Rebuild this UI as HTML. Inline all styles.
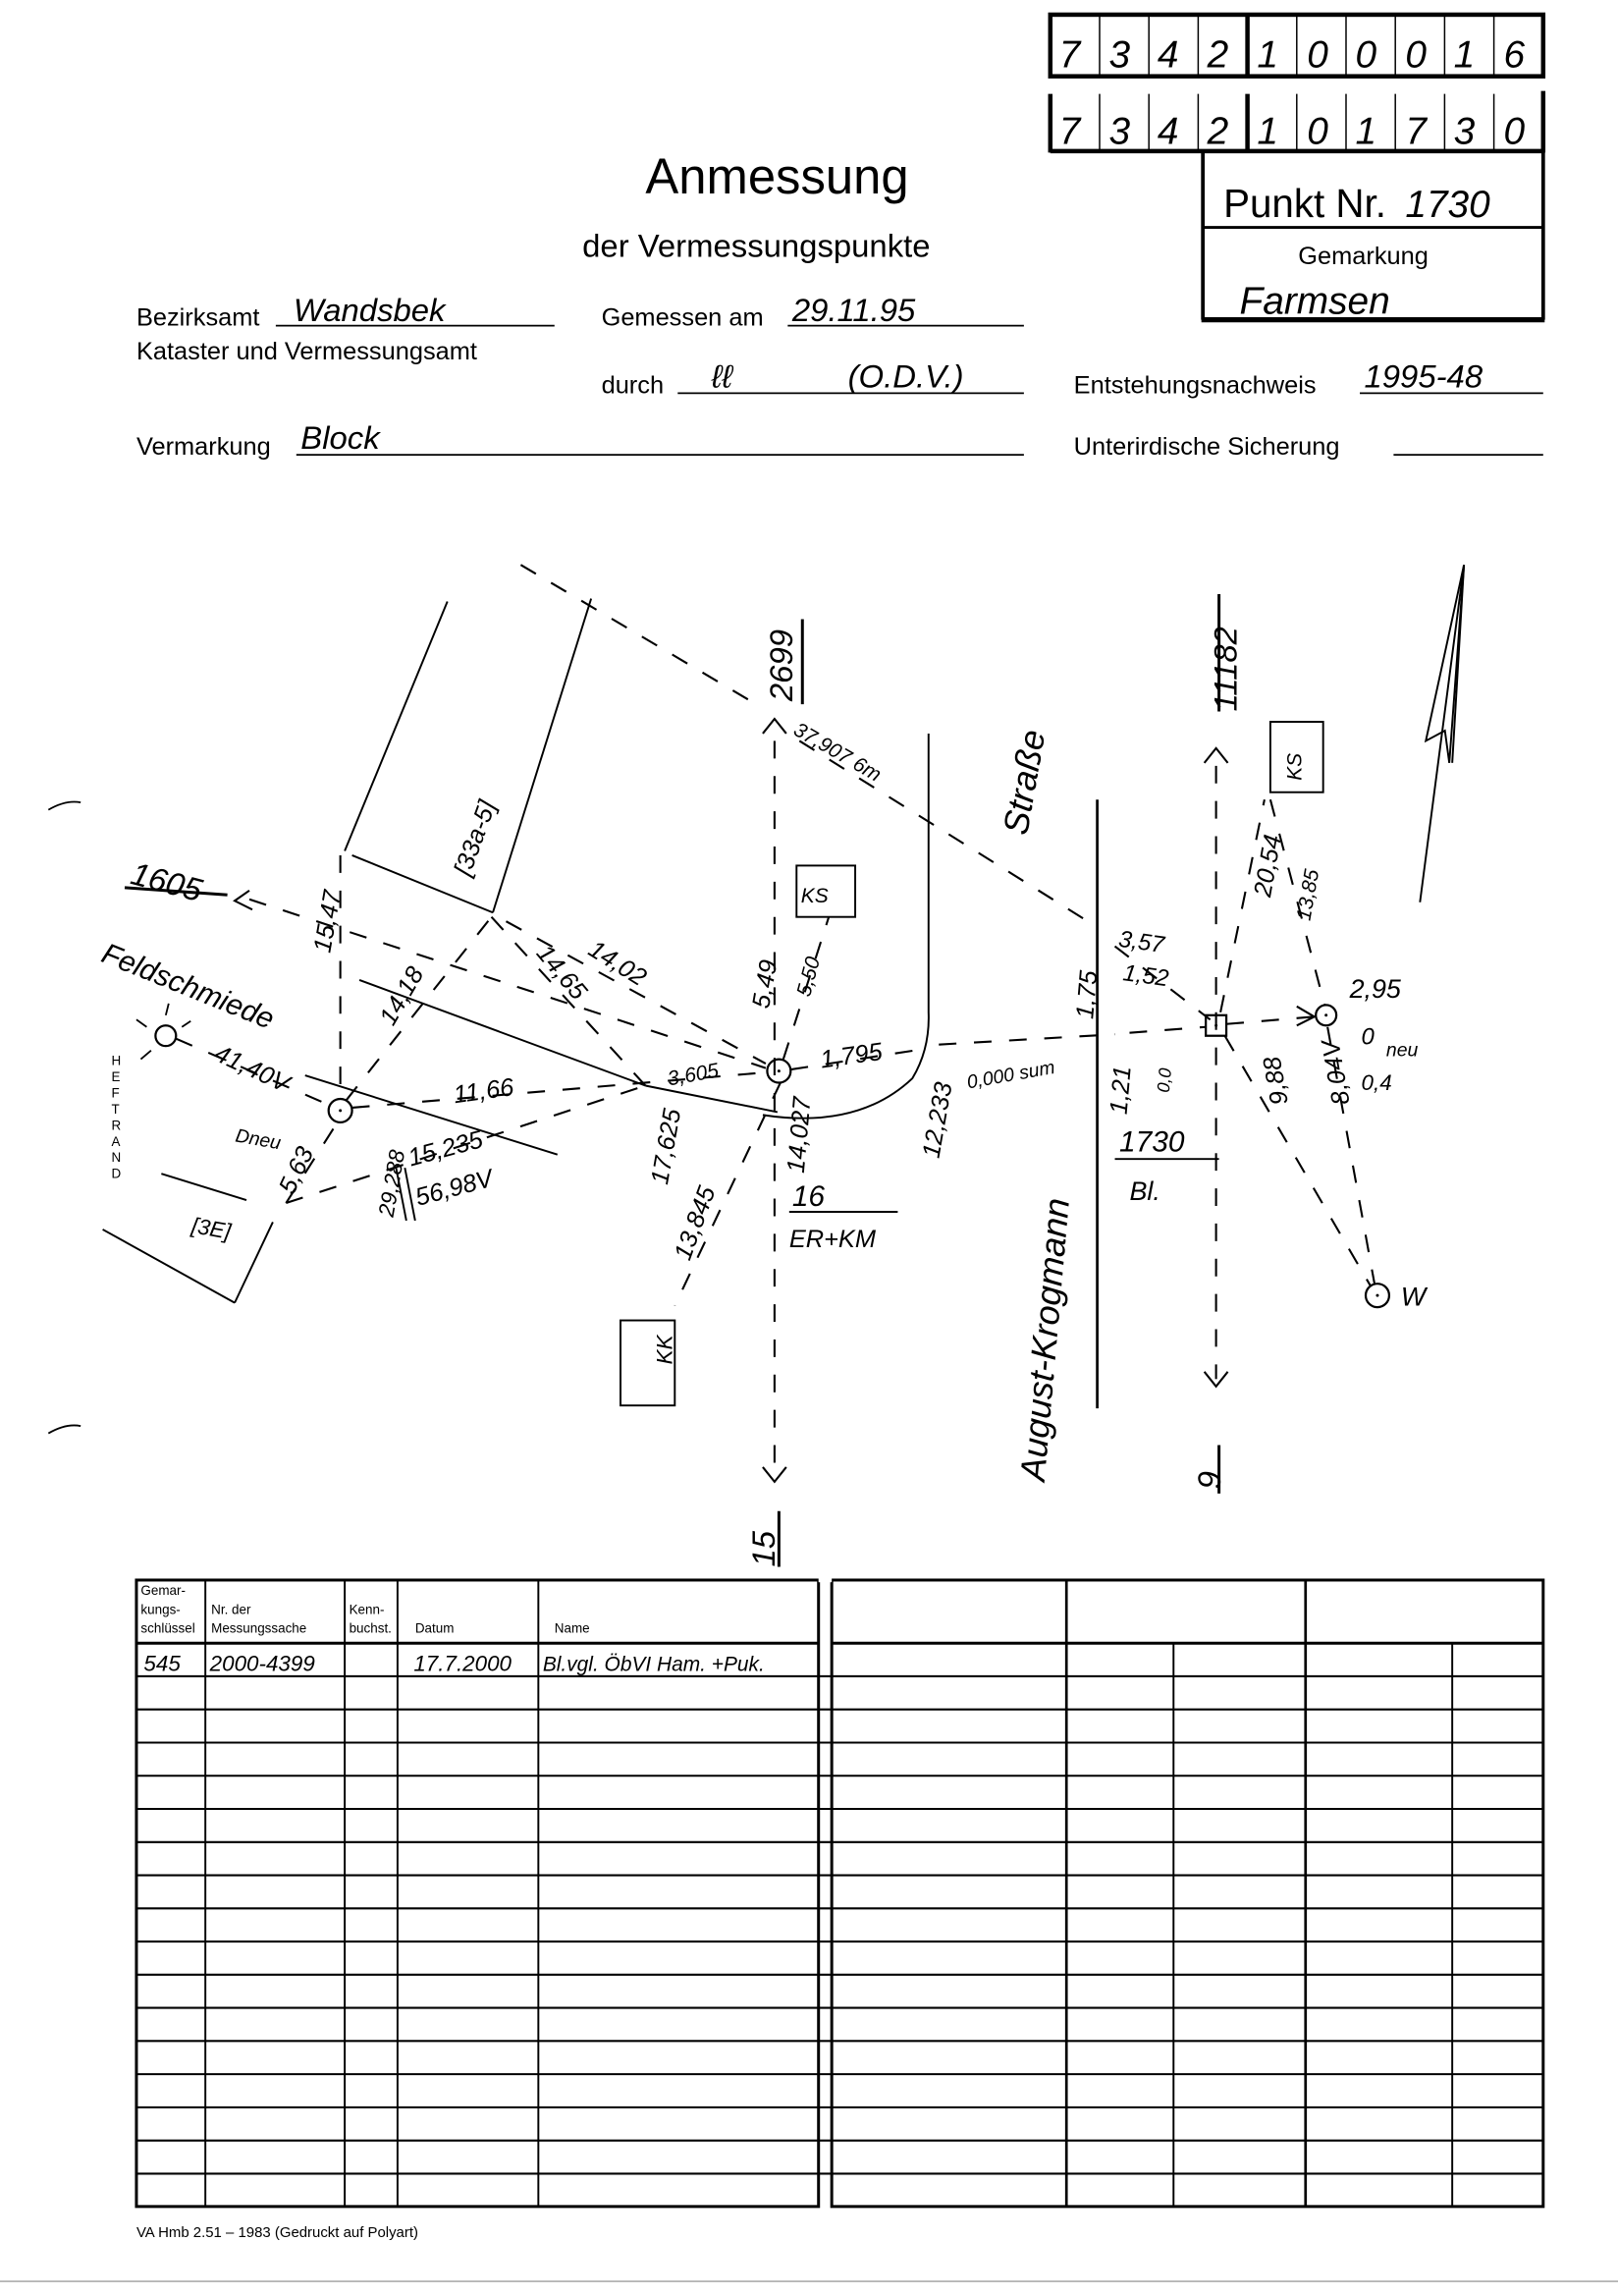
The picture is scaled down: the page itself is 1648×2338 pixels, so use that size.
<!DOCTYPE html>
<html><head><meta charset="utf-8"><style>
html,body{margin:0;padding:0;background:#fff;}
svg{display:block}
text{font-family:"Liberation Sans",sans-serif;fill:#000}
.h{font-style:italic}
</style></head><body>
<svg width="1648" height="2338" viewBox="0 0 1103 1565" preserveAspectRatio="none" xmlns="http://www.w3.org/2000/svg">
<g fill="none" stroke="#000">
<!-- code boxes -->
<rect x="716" y="10" width="336" height="42" stroke-width="3"/>
<g stroke-width="1"><line x1="749.6" y1="10" x2="749.6" y2="52"/><line x1="783.2" y1="10" x2="783.2" y2="52"/><line x1="816.8" y1="10" x2="816.8" y2="52"/><line x1="884" y1="10" x2="884" y2="52"/><line x1="917.6" y1="10" x2="917.6" y2="52"/><line x1="951.2" y1="10" x2="951.2" y2="52"/><line x1="984.8" y1="10" x2="984.8" y2="52"/><line x1="1018.4" y1="10" x2="1018.4" y2="52"/></g>
<line x1="850.4" y1="10" x2="850.4" y2="52" stroke-width="3"/>
<line x1="716" y1="64" x2="716" y2="104" stroke-width="3"/><line x1="1052" y1="62" x2="1052" y2="104" stroke-width="3"/>
<line x1="716" y1="103" x2="1052" y2="103" stroke-width="3"/>
<g stroke-width="1"><line x1="749.6" y1="64" x2="749.6" y2="102"/><line x1="783.2" y1="64" x2="783.2" y2="102"/><line x1="816.8" y1="64" x2="816.8" y2="102"/><line x1="884" y1="64" x2="884" y2="102"/><line x1="917.6" y1="64" x2="917.6" y2="102"/><line x1="951.2" y1="64" x2="951.2" y2="102"/><line x1="984.8" y1="64" x2="984.8" y2="102"/><line x1="1018.4" y1="64" x2="1018.4" y2="102"/></g>
<line x1="850.4" y1="64" x2="850.4" y2="102" stroke-width="3"/>
<line x1="820" y1="102" x2="820" y2="218" stroke-width="2.5"/><line x1="1052" y1="102" x2="1052" y2="218" stroke-width="2.5"/>
<line x1="820" y1="155" x2="1052" y2="155" stroke-width="2"/><line x1="819" y1="218" x2="1053" y2="218" stroke-width="3.5"/>
<!-- form lines -->
<g stroke-width="1.2">
<line x1="188" y1="222" x2="378" y2="222"/><line x1="537" y1="222" x2="698" y2="222"/>
<line x1="462" y1="268" x2="698" y2="268"/><line x1="927" y1="268" x2="1052" y2="268"/>
<line x1="202" y1="310" x2="698" y2="310"/><line x1="950" y1="310" x2="1052" y2="310"/>
</g>
<!-- margin marks -->
<path d="M33,552 Q45,545 55,547" stroke-width="1.2"/><path d="M33,977 Q45,970 55,972" stroke-width="1.2"/>
<line x1="0" y1="1555" x2="1103" y2="1555" stroke="#888" stroke-width="0.8"/>

<!-- sketch solid lines -->
<g stroke-width="1.3">
<line x1="305" y1="410" x2="235" y2="580"/>
<line x1="403" y1="408" x2="336" y2="622"/>
<line x1="240" y1="583" x2="336" y2="622"/>
<line x1="245" y1="668" x2="440" y2="740"/>
<line x1="208" y1="733" x2="380" y2="787"/>
<line x1="440" y1="740" x2="530" y2="758"/>
<line x1="110" y1="800" x2="168" y2="818"/>
<line x1="70" y1="838" x2="160" y2="888"/>
<line x1="160" y1="888" x2="186" y2="833"/>
<path d="M520,760 Q585,770 622,735 Q634,715 633,690 L633,500"/>
<line x1="748" y1="545" x2="748" y2="960" stroke-width="1.8"/>
<line x1="270" y1="796" x2="277" y2="832"/><line x1="276" y1="796" x2="283" y2="832"/>
<line x1="760" y1="790" x2="831" y2="790"/><line x1="538" y1="826" x2="612" y2="826"/>
<line x1="85" y1="605" x2="155" y2="610" stroke-width="2"/>
<line x1="831" y1="405" x2="831" y2="485" stroke-width="2"/><line x1="547" y1="422" x2="547" y2="480" stroke-width="2"/>
<line x1="531" y1="1030" x2="531" y2="1068" stroke-width="2"/><line x1="831" y1="985" x2="831" y2="1018" stroke-width="2"/>
<!-- north arrow -->
<path d="M968,615 L998,385 L990,520"/><path d="M998,385 L972,505 L985,498 L988,520 L998,385"/>
</g>
<!-- dashed lines -->
<g stroke-width="1.4" stroke-dasharray="12,12">
<line x1="355" y1="385" x2="512" y2="478"/>
<line x1="528" y1="505" x2="528" y2="1005"/>
<line x1="829" y1="522" x2="829" y2="940"/>
<line x1="545" y1="505" x2="748" y2="632"/>
<line x1="170" y1="613" x2="522" y2="728"/>
<line x1="240" y1="755" x2="522" y2="731"/>
<line x1="120" y1="708" x2="224" y2="753"/>
<line x1="236" y1="750" x2="335" y2="625"/>
<line x1="335" y1="625" x2="440" y2="740"/>
<line x1="345" y1="628" x2="522" y2="725"/>
<line x1="232" y1="583" x2="232" y2="749"/>
<line x1="195" y1="820" x2="440" y2="740"/>
<line x1="195" y1="820" x2="230" y2="765"/>
<line x1="532" y1="738" x2="460" y2="890"/>
<line x1="534" y1="722" x2="565" y2="625"/>
<line x1="539" y1="729" x2="630" y2="715"/>
<line x1="640" y1="712" x2="760" y2="705"/>
<line x1="770" y1="704" x2="822" y2="700"/>
<line x1="836" y1="698" x2="896" y2="693"/>
<line x1="760" y1="645" x2="825" y2="695"/>
<line x1="832" y1="690" x2="862" y2="545"/>
<line x1="866" y1="545" x2="903" y2="685"/>
<line x1="905" y1="700" x2="937" y2="875"/>
<line x1="835" y1="706" x2="934" y2="876"/>
</g>
<!-- arrowheads -->
<g stroke-width="1.4">
<path d="M520,500 L528,490 L536,500"/><path d="M520,1000 L528,1010 L536,1000"/>
<path d="M821,520 L829,510 L837,520"/><path d="M821,935 L829,945 L837,935"/>
<path d="M170,607 L160,614 L172,620"/><path d="M884,686 L896,693 L884,699"/>
</g>
<!-- points -->
<circle cx="232" cy="757" r="8" stroke-width="1.5"/>
<circle cx="531" cy="730" r="8" stroke-width="1.5"/>
<circle cx="113" cy="706" r="7" stroke-width="1.5"/>
<rect x="822" y="692" width="14" height="14" stroke-width="1.5"/>
<circle cx="904" cy="692" r="7" stroke-width="1.5"/>
<circle cx="939" cy="883" r="8" stroke-width="1.5"/>
<g stroke-width="1.2"><line x1="100" y1="700" x2="93" y2="695"/><line x1="113" y1="692" x2="115" y2="684"/><line x1="103" y1="716" x2="96" y2="722"/><line x1="124" y1="700" x2="130" y2="696"/></g>
<rect x="543" y="590" width="40" height="35" stroke-width="1.3"/>
<rect x="866" y="492" width="36" height="48" stroke-width="1.3"/>
<rect x="423" y="900" width="37" height="58" stroke-width="1.3"/>
</g>
<g fill="#000"><circle cx="232" cy="757" r="1"/><circle cx="531" cy="730" r="1"/><circle cx="829" cy="699" r="1"/><circle cx="904" cy="692" r="1"/><circle cx="939" cy="883" r="1"/></g>

<!-- header texts -->
<g class="h" font-size="26">
<text x="722" y="46">7</text><text x="756" y="46">3</text><text x="789" y="46">4</text><text x="823" y="46">2</text><text x="857" y="46">1</text><text x="891" y="46">0</text><text x="924" y="46">0</text><text x="958" y="46">0</text><text x="991" y="46">1</text><text x="1025" y="46">6</text>
<text x="722" y="98">7</text><text x="756" y="98">3</text><text x="789" y="98">4</text><text x="823" y="98">2</text><text x="857" y="98">1</text><text x="891" y="98">0</text><text x="924" y="98">1</text><text x="958" y="98">7</text><text x="991" y="98">3</text><text x="1025" y="98">0</text>
</g>
<text x="440" y="132" font-size="34">Anmessung</text>
<text x="397" y="175" font-size="22">der Vermessungspunkte</text>
<text x="834" y="148" font-size="27">Punkt Nr.</text><text x="958" y="148" font-size="26" class="h">1730</text>
<text x="885" y="180" font-size="17">Gemarkung</text>
<text x="845" y="214" font-size="26" class="h">Farmsen</text>
<g font-size="17">
<text x="93" y="222">Bezirksamt</text><text x="93" y="245">Kataster und Vermessungsamt</text>
<text x="410" y="222">Gemessen am</text><text x="410" y="268">durch</text>
<text x="732" y="268">Entstehungsnachweis</text>
<text x="93" y="310">Vermarkung</text><text x="732" y="310">Unterirdische Sicherung</text>
</g>
<g class="h" font-size="22">
<text x="200" y="219">Wandsbek</text><text x="540" y="219">29.11.95</text>
<text x="485" y="264">&#x2113;&#x2113;</text><text x="578" y="264">(O.D.V.)</text>
<text x="930" y="264">1995-48</text><text x="205" y="306">Block</text>
</g>
<text font-size="9" x="76" y="726" letter-spacing="0"><tspan x="76" y="726">H</tspan><tspan x="76" y="737">E</tspan><tspan x="76" y="748">F</tspan><tspan x="76" y="759">T</tspan><tspan x="76" y="770">R</tspan><tspan x="76" y="781">A</tspan><tspan x="76" y="792">N</tspan><tspan x="76" y="803">D</tspan></text>

<!-- sketch labels -->
<g class="h" font-size="17">
<text x="88" y="602" font-size="22" transform="rotate(15 88 602)">1605</text>
<text x="68" y="655" font-size="20" transform="rotate(22 68 655)">Feldschmiede</text>
<text x="540" y="478" font-size="22" transform="rotate(-90 540 478)">2699</text>
<text x="843" y="485" font-size="22" transform="rotate(-90 843 485)">11182</text>
<text x="528" y="1068" font-size="22" transform="rotate(-90 528 1068)">15</text>
<text x="832" y="1015" font-size="22" transform="rotate(-90 832 1015)">9</text>
<text x="320" y="598" transform="rotate(-70 320 598)">[33a-5]</text>
<text x="712" y="1010" font-size="24" transform="rotate(-85 712 1010)">August-Krogmann</text>
<text x="700" y="570" font-size="24" transform="rotate(-80 700 570)">Straße</text>
<text x="225" y="650" transform="rotate(-80 225 650)">15,47</text>
<text x="268" y="700" transform="rotate(-60 268 700)">14,18</text>
<text x="365" y="650" transform="rotate(50 365 650)">14,65</text>
<text x="400" y="650" transform="rotate(32 400 650)">14,02</text>
<text x="310" y="752" transform="rotate(-8 310 752)">11,66</text>
<text x="145" y="722" transform="rotate(25 145 722)">41,40V</text>
<text x="160" y="778" font-size="13" transform="rotate(10 160 778)">Dneu</text>
<text x="200" y="815" transform="rotate(-65 200 815)">5,63</text>
<text x="268" y="830" font-size="15" transform="rotate(-80 268 830)">29,288</text>
<text x="280" y="795" transform="rotate(-15 280 795)">15,235</text>
<text x="285" y="822" transform="rotate(-15 285 822)">56,98V</text>
<text x="456" y="740" font-size="14" transform="rotate(-10 456 740)">3,605</text>
<text x="455" y="808" transform="rotate(-80 455 808)">17,625</text>
<text x="470" y="860" transform="rotate(-70 470 860)">13,845</text>
<text x="524" y="688" transform="rotate(-80 524 688)">5,49</text>
<text x="552" y="680" font-size="14" transform="rotate(-75 552 680)">5,50</text>
<text x="546" y="615" font-size="14">KS</text>
<text x="870" y="525" font-size="14" transform="rotate(-90 882 520)">KS</text>
<text x="448" y="940" font-size="15" transform="rotate(-90 448 930)">KK</text>
<text x="560" y="728" transform="rotate(-8 560 728)">1,795</text>
<text x="548" y="800" transform="rotate(-85 548 800)">14,027</text>
<text x="640" y="790" transform="rotate(-80 640 790)">12,233</text>
<text x="660" y="742" font-size="13" transform="rotate(-10 660 742)">0,000 sum</text>
<text x="745" y="695" transform="rotate(-85 745 695)">1,75</text>
<text x="768" y="760" transform="rotate(-85 768 760)">1,21</text>
<text x="797" y="745" font-size="12" transform="rotate(-85 797 745)">0,0</text>
<text x="762" y="645" font-size="16" transform="rotate(8 762 645)">3,57</text>
<text x="765" y="668" font-size="16" transform="rotate(8 765 668)">1,52</text>
<text x="540" y="500" font-size="14" transform="rotate(30 540 500)">37,907 6m</text>
<text x="866" y="612" transform="rotate(-80 866 612)">20,54</text>
<text x="893" y="628" font-size="14" transform="rotate(-80 893 628)">13,85</text>
<text x="920" y="680" font-size="18">2,95</text>
<text x="928" y="712" font-size="16">0</text><text x="945" y="720" font-size="13">neu</text>
<text x="928" y="743" font-size="15">0,4</text>
<text x="878" y="752" transform="rotate(-100 878 752)">9,88</text>
<text x="920" y="752" transform="rotate(-100 920 752)">8,04V</text>
<text x="955" y="890" font-size="18">W</text>
<text x="763" y="785" font-size="20">1730</text><text x="770" y="818" font-size="18">Bl.</text>
<text x="540" y="822" font-size="20">16</text><text x="538" y="850" font-size="17">ER+KM</text>
<text x="130" y="840" font-size="15" transform="rotate(10 130 840)">[3E]</text>
</g>

<!-- table -->
<g fill="none" stroke="#000" stroke-width="1.3">
<rect x="93" y="1077" width="465" height="427" stroke-width="2"/>
<rect x="567" y="1077" width="485" height="427" stroke-width="2"/>
<line x1="140" y1="1077" x2="140" y2="1504"/><line x1="235" y1="1077" x2="235" y2="1504"/><line x1="271" y1="1077" x2="271" y2="1504"/><line x1="367" y1="1077" x2="367" y2="1504"/>
<line x1="727" y1="1077" x2="727" y2="1504" stroke-width="1.8"/><line x1="890" y1="1077" x2="890" y2="1504" stroke-width="1.8"/>
<line x1="800" y1="1120" x2="800" y2="1504"/><line x1="990" y1="1120" x2="990" y2="1504"/>
<line x1="93" y1="1120" x2="558" y2="1120" stroke-width="2"/><line x1="567" y1="1120" x2="1052" y2="1120" stroke-width="2"/>
</g>
<g stroke="#000" stroke-width="1.4">
<line x1="93" y1="1142.6" x2="1052" y2="1142.6"/><line x1="93" y1="1165.2" x2="1052" y2="1165.2"/><line x1="93" y1="1187.8" x2="1052" y2="1187.8"/><line x1="93" y1="1210.4" x2="1052" y2="1210.4"/><line x1="93" y1="1233" x2="1052" y2="1233"/><line x1="93" y1="1255.6" x2="1052" y2="1255.6"/><line x1="93" y1="1278.2" x2="1052" y2="1278.2"/><line x1="93" y1="1300.8" x2="1052" y2="1300.8"/><line x1="93" y1="1323.4" x2="1052" y2="1323.4"/><line x1="93" y1="1346" x2="1052" y2="1346"/><line x1="93" y1="1368.6" x2="1052" y2="1368.6"/><line x1="93" y1="1391.2" x2="1052" y2="1391.2"/><line x1="93" y1="1413.8" x2="1052" y2="1413.8"/><line x1="93" y1="1436.4" x2="1052" y2="1436.4"/><line x1="93" y1="1459" x2="1052" y2="1459"/><line x1="93" y1="1481.6" x2="1052" y2="1481.6"/>
</g>
<line x1="558" y1="1077" x2="567" y2="1077" stroke="#fff" stroke-width="3"/>
<g font-size="9">
<text x="96" y="1087">Gemar-</text><text x="96" y="1100">kungs-</text><text x="96" y="1113">schlüssel</text>
<text x="144" y="1100">Nr. der</text><text x="144" y="1113">Messungssache</text>
<text x="238" y="1100">Kenn-</text><text x="238" y="1113">buchst.</text>
<text x="283" y="1113">Datum</text><text x="378" y="1113">Name</text>
</g>
<g class="h" font-size="15">
<text x="98" y="1139">545</text><text x="143" y="1139">2000-4399</text><text x="282" y="1139">17.7.2000</text><text x="370" y="1139" font-size="14">Bl.vgl. ÖbVI Ham. +Puk.</text>
</g>
<text x="93" y="1525" font-size="10">VA Hmb 2.51 – 1983 (Gedruckt auf Polyart)</text>
</svg>
</body></html>
